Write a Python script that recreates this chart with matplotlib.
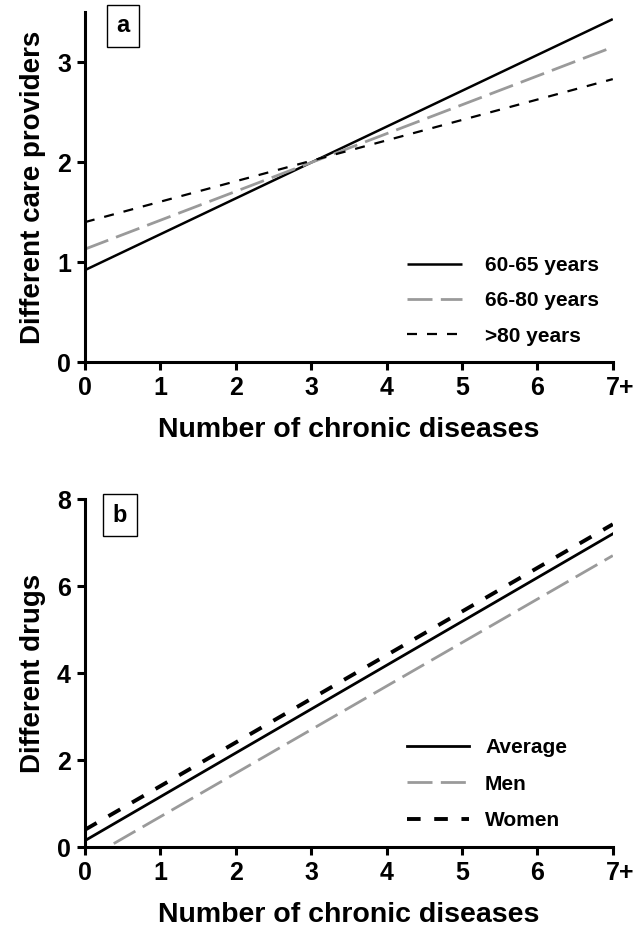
import matplotlib
matplotlib.use("Agg")
import matplotlib.pyplot as plt
from matplotlib.transforms import ScaledTranslation

# Data (line endpoints)
x_ends = [0, 7]
x_ticks = [0, 1, 2, 3, 4, 5, 6, 7]
x_ticklabels = ["0", "1", "2", "3", "4", "5", "6", "7+"]

age_labels = ["60-65 years", "66-80 years", ">80 years"]
age_60_65 = [0.92, 3.43]
age_66_80 = [1.13, 3.15]
age_80p = [1.40, 2.83]

sex_labels = ["Average", "Men", "Women"]
drugs_avg = [0.15, 7.20]
drugs_men = [-0.30, 6.70]
drugs_women = [0.40, 7.42]

plt.rcParams['font.family'] = ['Liberation Sans', 'DejaVu Sans']
plt.rcParams['font.weight'] = 'bold'

fig = plt.figure(figsize=(6.43, 9.31), dpi=100)
ax1 = fig.add_axes([0.132, 0.611, 0.821, 0.376])
ax2 = fig.add_axes([0.132, 0.090, 0.821, 0.374])

gray = '#9a9a9a'

def style(ax, ymax, yticks):
    ax.set_xlim(0, 7)
    ax.set_ylim(0, ymax)
    for s in ['top', 'right']:
        ax.spines[s].set_visible(False)
    for s in ['left', 'bottom']:
        ax.spines[s].set_linewidth(2.2)
    ax.set_xticks(x_ticks)
    ax.set_xticklabels(x_ticklabels)
    ax.set_yticks(yticks)
    ax.tick_params(width=2.2, length=6, labelsize=18, pad=4)
    for lab in ax.get_xticklabels() + ax.get_yticklabels():
        lab.set_fontweight('bold')
    last = ax.get_xticklabels()[-1]
    last.set_transform(last.get_transform() + ScaledTranslation(7 / 100, 0, fig.dpi_scale_trans))
    ax.set_xlabel("Number of chronic diseases", fontsize=20.5, fontweight='bold', labelpad=12)

# Panel a
ax1.plot(x_ends, age_60_65, color='black', lw=1.8, label=age_labels[0], solid_capstyle='butt')
ax1.plot(x_ends, age_66_80, color=gray, lw=2.0, dashes=(9, 3), label=age_labels[1])
ax1.plot(x_ends, age_80p, color='black', lw=1.6, dashes=(4.5, 4.5), label=age_labels[2])
style(ax1, 3.5, [0, 1, 2, 3])
ax1.set_ylabel("Different care providers", fontsize=20, fontweight='bold', labelpad=8)
ax1.legend(loc='upper left', bbox_to_anchor=(0.61, 0.303), frameon=False,
           fontsize=15, handlelength=2.65, labelspacing=0.78, handletextpad=1.1,
           borderpad=0, borderaxespad=0)

# Panel b
ax2.plot(x_ends, drugs_avg, color='black', lw=2.0, label=sex_labels[0])
ax2.plot(x_ends, drugs_men, color=gray, lw=2.0, dashes=(9, 3), label=sex_labels[1])
ax2.plot(x_ends, drugs_women, color='black', lw=2.8, dashes=(3.5, 3.5), label=sex_labels[2])
style(ax2, 8, [0, 2, 4, 6, 8])
ax2.set_ylabel("Different drugs", fontsize=20, fontweight='bold', labelpad=8)
ax2.legend(loc='upper left', bbox_to_anchor=(0.61, 0.314), frameon=False,
           fontsize=15, handlelength=3.0, labelspacing=0.85, handletextpad=0.75,
           borderpad=0, borderaxespad=0)

# Panel letters
for lbl, (px, py) in [("a", (123, 26)), ("b", (120, 515))]:
    fig.text(px / 643, 1 - py / 931, lbl, fontsize=17, fontweight='bold',
             ha='center', va='center',
             bbox=dict(boxstyle='square,pad=0.4', fc='white', ec='black', lw=1))

fig.savefig("out.png", dpi=100)
